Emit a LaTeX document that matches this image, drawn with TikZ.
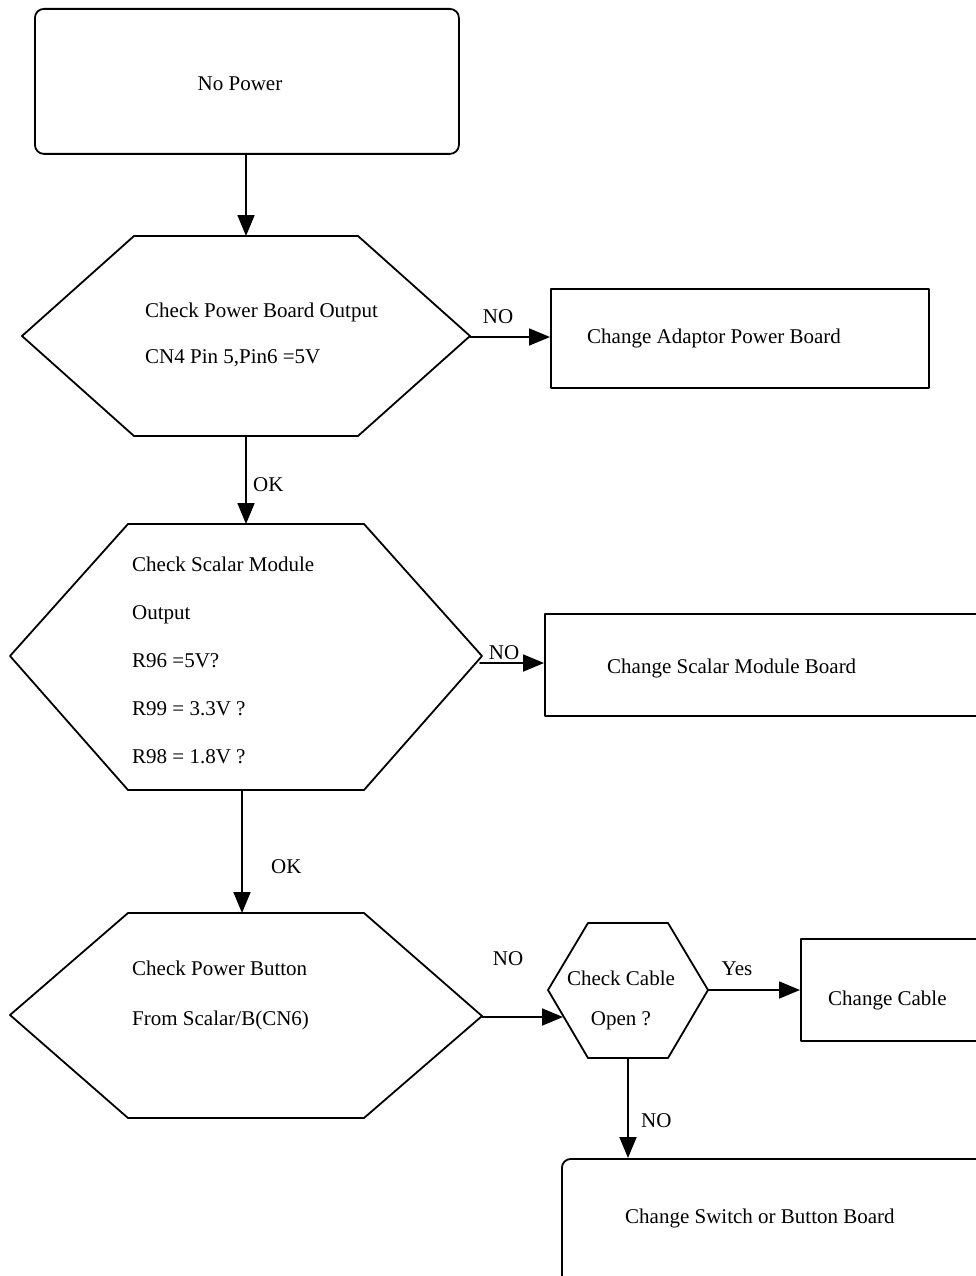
\documentclass[tikz,border=0pt]{standalone}
\usepackage{fontspec}
\setmainfont{Liberation Serif}
\usetikzlibrary{arrows.meta,calc}
\tikzset{
  txt/.style={font=\fontsize{21}{#1}\selectfont,inner sep=0pt,align=left,anchor=base west},
  txt/.default=25,
  ctr/.style={font=\fontsize{21}{#1}\selectfont,inner sep=0pt,align=center,anchor=base},
  ctr/.default=25,
  box/.style={draw,rectangle,inner sep=0pt,anchor=north west,line width=1.8pt},
  rbox/.style={box,rounded corners=9pt},
  flow/.style={-{Triangle[length=21pt,width=17pt]},line width=1.8pt}
}
\begin{document}
\begin{tikzpicture}[line cap=round,line join=round,x=1pt,y=-1pt]
\useasboundingbox (0,0) rectangle (976,1276);
\clip (0,0) rectangle (976,1276);
% hexagon corners
\coordinate (h1n) at (246,236); \coordinate (h1s) at (246,436); \coordinate (h1e) at (470,337);
\coordinate (h2n) at (246,524); \coordinate (h2s) at (242,790); \coordinate (h2e) at (480,663);
\coordinate (h3n) at (242,913); \coordinate (h3e) at (482,1017);
\coordinate (h4w) at (563,1017); \coordinate (h4s) at (628,1058); \coordinate (h4e) at (708,990);
\draw [line width=1.8pt] (22,336)-- (134,236)-- (358,236)-- (470,336)-- (358,436)-- (134,436)-- cycle;
\draw [line width=1.8pt] (10,656)-- (128,524)-- (364,524)-- (482,656)-- (364,790)-- (128,790)-- cycle;
\draw [line width=1.8pt] (10,1015)-- (128,913)-- (364,913)-- (482,1016)-- (364,1118)-- (128,1118)-- cycle;
\draw [line width=1.8pt] (548,990)-- (588,923)-- (668,923)-- (708,990)-- (668,1058)-- (588,1058)-- cycle;
% boxes
\node [rbox,minimum width=424pt,minimum height=145pt] (nopower) at (34,8) {};
\node [box,minimum width=378pt,minimum height=99pt] (adaptor) at (550,288) {};
\node [box,minimum width=440pt,minimum height=102pt] (scalarbox) at (544,613) {};
\node [box,minimum width=200pt,minimum height=102pt] (cable) at (800,938) {};
\node [rbox,minimum width=440pt,minimum height=140pt] (switchbox) at (561,1158) {};
% texts (multi-line nodes sit on their last line)
\node [ctr] (t0) at (240,91) {No Power};
\node [txt=46] (t1) at (145,363) {Check Power Board Output\\CN4 Pin 5,Pin6 =5V};
\node [txt] (t2) at (587,343) {Change Adaptor Power Board};
\node [txt=48] (t3) at (132,763) {Check Scalar Module\\Output\\R96 =5V?\\R99 = 3.3V ?\\R98 = 1.8V ?};
\node [txt] (t4) at (607,673) {Change Scalar Module Board};
\node [txt=50] (t5) at (132,1025) {Check Power Button\\From Scalar/B(CN6)};
\node [ctr=40] (t6) at (621,1025) {Check Cable\\Open ?};
\node [txt] (t7) at (828,1005) {Change Cable};
\node [txt] (t8) at (625,1223) {Change Switch or Button Board};
% connectors
\draw [flow] (nopower.south -| h1n)-- (h1n);
\draw [flow] (h1e)-- (adaptor.west |- h1e);
\draw [flow] (h1s)-- (h2n);
\draw [flow] (h2e)-- (scalarbox.west |- h2e);
\draw [flow] (h2s)-- (h3n);
\draw [flow] (h3e)-- (h4w);
\draw [flow] (h4e)-- (cable.west |- h4e);
\draw [flow] (h4s)-- (switchbox.north -| h4s);
% labels
\node [ctr] (l1) at (498,323) {NO};
\node [txt] (l2) at (253,491) {OK};
\node [ctr] (l3) at (504,659) {NO};
\node [txt] (l4) at (271,873) {OK};
\node [ctr] (l5) at (508,965) {NO};
\node [ctr] (l6) at (737,975) {Yes};
\node [txt] (l7) at (641,1127) {NO};
\end{tikzpicture}
\end{document}
